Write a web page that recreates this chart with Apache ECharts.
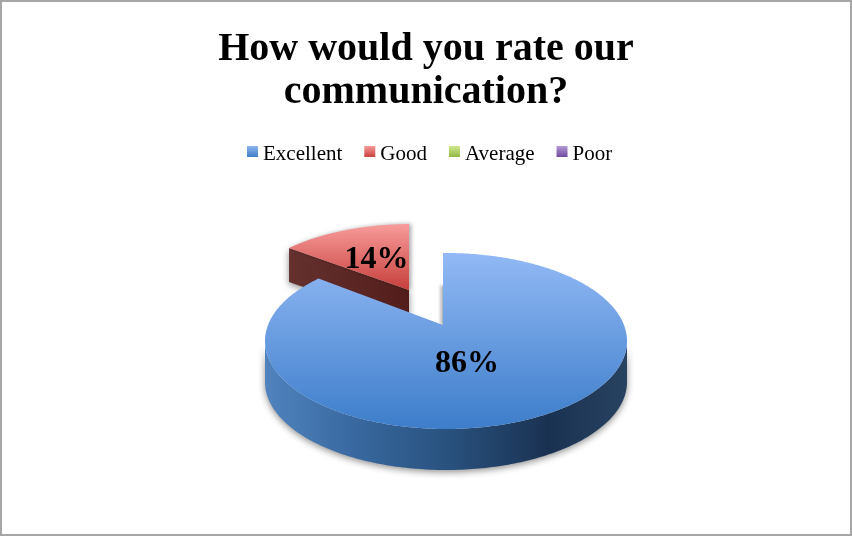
<!DOCTYPE html>
<html><head><meta charset="utf-8">
<style>html,body{margin:0;padding:0;background:#fff}#c{width:852px;height:536px}</style>
<script src="https://cdn.jsdelivr.net/npm/echarts@6/dist/echarts.min.js"></script>
</head><body><div id="c"></div>
<script>
var categories = ['Excellent', 'Good', 'Average', 'Poor'];
var values = [86, 14, 0, 0];
var titleLines = ['How would you rate our', 'communication?'];

var SERIF = '"Liberation Serif","DejaVu Serif",serif';
var LG = echarts.graphic.LinearGradient;
function vgrad(a, b) { return new LG(0, 0, 0, 1, [{offset: 0, color: a}, {offset: 1, color: b}]); }
var legendColors = [vgrad('#8db5ee', '#3f7cc6'), vgrad('#f59a98', '#c9403c'), vgrad('#cfe88f', '#93b843'), vgrad('#b49ad6', '#6f4a9e')];
var geoms = {
  Excellent: {ax: 443, ay: 325, cx: 446, cy: 341, rx: 181, ry: 88, tilt: 0.451, depth: 41, ldx: -11, ldy: 3,
    top: ['#92b9f5', '#3d7dca'],
    wall: [[0, '#5083be'], [0.25, '#38689f'], [0.5, '#29527f'], [0.78, '#1a3252'], [1, '#284262']]},
  Good: {ax: 409, ay: 290, cx: 412, cy: 305, rx: 173, ry: 81, tilt: 0.423, depth: 34, ldx: 1, ldy: 3,
    top: ['#f89c9b', '#c63f3b'],
    wall: [[0, '#65312f'], [1, '#521d1b']]}
};
var total = values.reduce(function (a, b) { return a + b; }, 0);

function rayPoint(g, deg) {
  var r = deg * Math.PI / 180, dx = Math.sin(r), dy = -Math.cos(r) * g.tilt;
  var ox = (g.ax - g.cx) / g.rx, oy = (g.ay - g.cy) / g.ry, ux = dx / g.rx, uy = dy / g.ry;
  var A = ux * ux + uy * uy, B = 2 * (ox * ux + oy * uy), C = ox * ox + oy * oy - 1;
  var k = (-B + Math.sqrt(B * B - 4 * A * C)) / (2 * A);
  return [g.ax + k * dx, g.ay + k * dy];
}
function makeRender(idx) {
  return function (params, api) {
    var v = api.value(0);
    if (!v) return {type: 'group', children: []};
    var before = values.slice(0, idx).reduce(function (a, b) { return a + b; }, 0);
    var a0 = before / total * 360, a1 = (before + v) / total * 360;
    var g = geoms[categories[idx]], pts = [], n = 360, i, children = [];
    for (i = 0; i <= n; i++) pts.push(rayPoint(g, a0 + (a1 - a0) * i / n));
    var shadow = {shadowBlur: 7, shadowColor: 'rgba(0,0,0,0.45)', shadowOffsetY: 2};
    var wallFill = new LG(0, 0, 1, 0, g.wall.map(function (s) { return {offset: s[0], color: s[1]}; }));
    // outer wall: the part of the arc that faces the viewer
    var front = pts.filter(function (p) { return p[1] >= g.cy; });
    if (front.length > 1) {
      var poly = front.concat(front.slice().reverse().map(function (p) { return [p[0], p[1] + g.depth]; }));
      children.push({type: 'polygon', shape: {points: poly}, style: Object.assign({fill: wallFill}, shadow)});
    }
    // cut wall on the start edge when it faces the viewer
    if (Math.sin(a0 * Math.PI / 180) < -1e-6) {
      var e = pts[0];
      children.push({type: 'polygon', shape: {points: [e, [g.ax, g.ay], [g.ax, g.ay + g.depth], [e[0], e[1] + g.depth]]},
        style: Object.assign({fill: wallFill}, shadow)});
    } else {
      // thin shaded sliver along a start edge that faces away
      var s = pts[0];
      children.push({type: 'line', shape: {x1: g.ax + 0.5, y1: g.ay, x2: g.ax + 0.5, y2: g.ay + (s[1] - g.ay) * 0.55},
        style: {stroke: '#3f5674', lineWidth: 1.5, shadowBlur: 3, shadowColor: 'rgba(0,0,0,0.5)', shadowOffsetX: -2}});
    }
    var faceStyle = {fill: vgrad(g.top[0], g.top[1])};
    if (idx !== 0) Object.assign(faceStyle, {shadowBlur: 4, shadowColor: 'rgba(0,0,0,0.35)', shadowOffsetX: 2});
    children.push({type: 'polygon', shape: {points: [[g.ax, g.ay]].concat(pts)}, style: faceStyle});
    var mid = (a0 + a1) / 2 * Math.PI / 180;
    children.push({type: 'text', z2: 50, style: {
      x: g.ax + 0.455 * Math.sin(mid) * g.rx + g.ldx, y: g.ay - 0.455 * Math.cos(mid) * g.ry + g.ldy,
      text: v + '%', fill: '#000', font: 'bold 32px ' + SERIF, textAlign: 'center', textVerticalAlign: 'middle'}});
    return {type: 'group', children: children};
  };
}
var series = categories.map(function (name, i) {
  return {type: 'custom', name: name, coordinateSystem: 'none', z: i === 0 ? 3 : 2,
    data: [[values[i]]], renderItem: makeRender(i), silent: true, animation: false,
    itemStyle: {color: legendColors[i]}};
});
var chart = echarts.init(document.getElementById('c'), null, {renderer: 'canvas'});
chart.setOption({
  animation: false,
  backgroundColor: '#fff',
  title: {text: titleLines.join('\n'), left: 'center', top: 23,
    textStyle: {fontFamily: SERIF, fontWeight: 'bold', fontSize: 40, lineHeight: 43, color: '#000'}},
  legend: {left: 242, top: 139, itemWidth: 11, itemHeight: 11, itemGap: 22, selectedMode: false, icon: 'rect',
    formatter: '{t|{name}}',
    textStyle: {color: '#000', rich: {t: {fontFamily: SERIF, fontSize: 21, color: '#000', padding: [6, 0, 0, 0]}}},
    data: categories.map(function (n, i) { return {name: n, itemStyle: {color: legendColors[i]}}; })},
  graphic: [{type: 'rect', silent: true, z: 100, shape: {x: 1, y: 1, width: 850, height: 534},
    style: {fill: 'none', stroke: '#a6a6a6', lineWidth: 2}}],
  series: series
});
</script></body></html>
